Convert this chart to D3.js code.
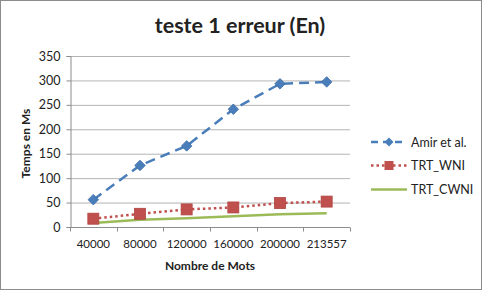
<!DOCTYPE html>
<html>
<head>
<meta charset="utf-8">
<script src="https://cdn.jsdelivr.net/npm/d3@7"></script>
<style>
  body { margin: 0; background: #fff; }
  text { font-family: Lato, 'Open Sans', sans-serif; fill: #222; }
</style>
</head>
<body>
<div id="chart"></div>
<script>
// Data
const categories = ['40000', '80000', '120000', '160000', '200000', '213557'];
const amir = [56, 126, 166, 241, 293, 297];
const trtWni = [17, 27, 36, 40, 49, 52];
const trtCwni = [8, 15, 18, 22, 26, 28];
const yTicks = [0, 50, 100, 150, 200, 250, 300, 350];

const W = 482;
const H = 290;
const margin = { t: 56, r: 132, b: 63, l: 70 };
const width = W - margin.l - margin.r;
const height = H - margin.t - margin.b;

const svg = d3
  .select('#chart')
  .append('svg')
  .attr('width', W)
  .attr('height', H);

// outer frame
svg
  .append('rect')
  .attr('x', 0.5)
  .attr('y', 0.5)
  .attr('width', W - 1)
  .attr('height', H - 1)
  .attr('fill', '#fff')
  .attr('stroke', '#8c8c8c');

const g = svg.append('g').attr('transform', `translate(${margin.l}, ${margin.t})`);

const xScale = d3.scaleBand().domain(categories).range([0, width]);
const yScale = d3.scaleLinear().domain([0, 350]).range([height, 0]);

// gridlines
g.append('g')
  .selectAll('line')
  .data(yTicks.slice(1))
  .join('line')
  .attr('x1', 0)
  .attr('x2', width)
  .attr('y1', (d) => yScale(d) + 0.5)
  .attr('y2', (d) => yScale(d) + 0.5)
  .attr('stroke', '#b4b4b4');

// y axis
const yAxis = g
  .append('g')
  .attr('transform', 'translate(0.5,0)')
  .call(d3.axisLeft(yScale).tickValues(yTicks).tickSize(4).tickPadding(6));
yAxis.selectAll('line, path').attr('stroke', '#8c8c8c');
yAxis.selectAll('text').style('font-size', '12.5px').attr('fill', '#222');

// x axis (ticks on category boundaries)
const xAxis = g.append('g').attr('transform', `translate(0,${height + 0.5})`);
xAxis
  .append('line')
  .attr('x1', 0)
  .attr('x2', width)
  .attr('stroke', '#8c8c8c');
xAxis
  .selectAll('.tk')
  .data(d3.range(categories.length + 1))
  .join('line')
  .attr('class', 'tk')
  .attr('x1', (i) => Math.round(i * xScale.step()) + 0.5)
  .attr('x2', (i) => Math.round(i * xScale.step()) + 0.5)
  .attr('y1', 0)
  .attr('y2', 4)
  .attr('stroke', '#8c8c8c');
xAxis
  .selectAll('.lbl')
  .data(categories)
  .join('text')
  .attr('class', 'lbl')
  .attr('x', (d) => xScale(d) + xScale.bandwidth() / 2)
  .attr('y', 20)
  .attr('text-anchor', 'middle')
  .style('font-size', '11.5px')
  .text((d) => d);

const cx = (i) => xScale(categories[i]) + xScale.bandwidth() / 2;
const line = d3
  .line()
  .x((d, i) => cx(i))
  .y((d) => yScale(d));

// TRT_CWNI
g.append('path')
  .datum(trtCwni)
  .attr('d', line)
  .attr('fill', 'none')
  .attr('stroke', '#9bbb59')
  .attr('stroke-width', 2.5);

// TRT_WNI
g.append('path')
  .datum(trtWni)
  .attr('d', line)
  .attr('fill', 'none')
  .attr('stroke', '#c0504d')
  .attr('stroke-width', 2.5)
  .attr('stroke-dasharray', '2.5,3');
g.selectAll('.sq')
  .data(trtWni)
  .join('rect')
  .attr('class', 'sq')
  .attr('x', (d, i) => cx(i) - 5.5)
  .attr('y', (d) => yScale(d) - 5.5)
  .attr('width', 11)
  .attr('height', 11)
  .attr('fill', '#c0504d')
  .attr('stroke', '#b04541')
  .attr('stroke-width', 0.8);

// Amir et al.
g.append('path')
  .datum(amir)
  .attr('d', line)
  .attr('fill', 'none')
  .attr('stroke', '#4a7ebb')
  .attr('stroke-width', 2.5)
  .attr('stroke-dasharray', '10,6');
g.selectAll('.dm')
  .data(amir)
  .join('path')
  .attr('class', 'dm')
  .attr('d', d3.symbol(d3.symbolSquare, 55))
  .attr('transform', (d, i) => `translate(${cx(i)},${yScale(d)}) rotate(45)`)
  .attr('fill', '#4a7ebb')
  .attr('stroke', '#3f6fa8')
  .attr('stroke-width', 0.8);

// title
svg
  .append('text')
  .attr('x', 240)
  .attr('y', 33)
  .attr('text-anchor', 'middle')
  .style('font-size', '21.5px')
  .style('font-weight', 'bold')
  .attr('fill', '#000')
  .text('teste 1 erreur (En)');

// axis names
svg
  .append('text')
  .attr('x', margin.l + width / 2)
  .attr('y', 270)
  .attr('text-anchor', 'middle')
  .style('font-size', '12px')
  .style('font-weight', 'bold')
  .text('Nombre de Mots');
svg
  .append('text')
  .attr('transform', `translate(30, ${margin.t + height / 2 + 2}) rotate(-90)`)
  .attr('text-anchor', 'middle')
  .style('font-size', '12px')
  .style('font-weight', 'bold')
  .text('Temps en Ms');

// legend
const legend = svg.append('g').attr('transform', 'translate(371, 0)');
const lx1 = 0;
const lx2 = 36;
const lmid = 18;
// Amir
legend
  .append('line')
  .attr('x1', lx1).attr('x2', lx2).attr('y1', 142).attr('y2', 142)
  .attr('stroke', '#4a7ebb').attr('stroke-width', 2.5).attr('stroke-dasharray', '7,5');
legend
  .append('path')
  .attr('d', d3.symbol(d3.symbolSquare, 40))
  .attr('transform', `translate(${lmid},142) rotate(45)`)
  .attr('fill', '#4a7ebb');
legend.append('text').attr('x', 40).attr('y', 146.5).style('font-size', '12.5px').text('Amir et al.');
// TRT_WNI
legend
  .append('line')
  .attr('x1', lx1).attr('x2', lx2).attr('y1', 165.5).attr('y2', 165.5)
  .attr('stroke', '#c0504d').attr('stroke-width', 2.5).attr('stroke-dasharray', '2.5,3');
legend
  .append('rect')
  .attr('x', lmid - 4.5).attr('y', 161).attr('width', 9).attr('height', 9)
  .attr('fill', '#c0504d');
legend.append('text').attr('x', 40).attr('y', 170).style('font-size', '12.5px').text('TRT_WNI');
// TRT_CWNI
legend
  .append('line')
  .attr('x1', lx1).attr('x2', lx2).attr('y1', 189.5).attr('y2', 189.5)
  .attr('stroke', '#9bbb59').attr('stroke-width', 2.5);
legend.append('text').attr('x', 40).attr('y', 194).style('font-size', '12.5px').text('TRT_CWNI');
</script>
</body>
</html>
